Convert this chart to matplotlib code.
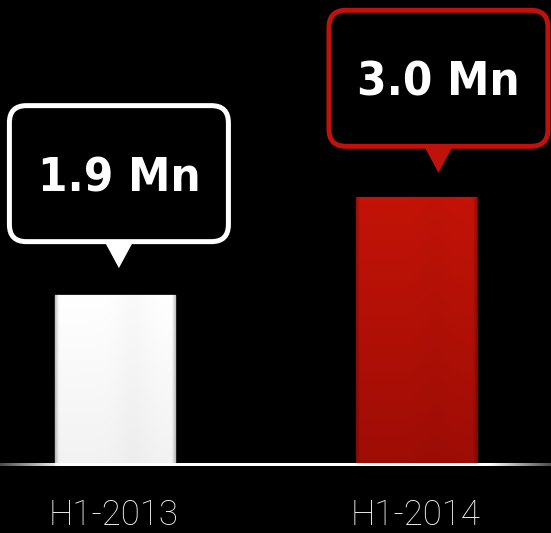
import matplotlib
matplotlib.use('Agg')
import matplotlib.pyplot as plt
import matplotlib.transforms as mtransforms
from matplotlib.patches import FancyBboxPatch, Polygon
import numpy as np

# values (million units)
periods = ['H1-2013', 'H1-2014']
values = [1.9, 3.0]
value_labels = ['1.9 Mn', '3.0 Mn']

# bar styling
bar_top = ['#ffffff', '#c41307']
bar_bottom = ['#f2f2f2', '#9e0d05']
bar_edge = ['#b0b0b0', '#7a0a03']
box_edge = ['#ffffff', '#c0120c']
box_shift_px = [4, 22]        # horizontal offset of each callout from its bar
box_gap_px = [27, 24]         # gap between bar top and callout tip

W, H, DPI = 551, 533, 100
fig = plt.figure(figsize=(W / DPI, H / DPI), dpi=DPI, facecolor='black')

base_px = 68                  # baseline height above bottom edge
px_per_unit = 89.4
ax = fig.add_axes([0, base_px / H, 1, 1 - base_px / H])
ax.set_facecolor('black')
ax.set_xlim(-0.381, 1.446)
ax.set_ylim(0, (H - base_px) / px_per_unit)
ax.axis('off')

xs = np.arange(len(values))
bw = 0.40
bars = ax.bar(xs, values, width=bw, color=bar_top, edgecolor=bar_edge,
              linewidth=1.0, zorder=2)

# shaded fill for each bar, clipped to the bar rectangle
for i, b in enumerate(bars):
    top = np.array(matplotlib.colors.to_rgb(bar_top[i]))
    bot = np.array(matplotlib.colors.to_rgb(bar_bottom[i]))
    ny, nx = 100, 120
    t = np.linspace(0, 1, ny)[:, None, None]
    col = top * (1 - t) + bot * t
    u = np.linspace(-1, 1, nx)
    shade = 1 - 0.22 * np.clip((np.abs(u) - 0.94) / 0.06, 0, 1)
    shade = shade - 0.02 * np.exp(-((u - 0.3) / 0.3) ** 2)
    img = np.clip(col * shade[None, :, None], 0, 1)
    im = ax.imshow(img, extent=[xs[i] - bw / 2, xs[i] + bw / 2, 0, values[i]],
                   aspect='auto', zorder=2.5, interpolation='bilinear')
    im.set_clip_path(b)

# baseline: thin white strip fading out towards both edges
x0, x1 = ax.get_xlim()
n = 400
xx = np.linspace(x0, x1, n)
ramp = np.clip(np.minimum(xx - x0, x1 - xx) / 0.2, 0, 1)
strip = np.ones((1, n, 4))
strip[0, :, 3] = 0.3 + 0.7 * ramp
hh = 1.5 / px_per_unit
ax.imshow(strip, extent=[x0, x1, -hh, hh], aspect='auto', zorder=3,
          interpolation='bilinear', clip_on=False)
ax.set_xlim(x0, x1)
ax.set_ylim(0, (H - base_px) / px_per_unit)

# category labels
for i, p in enumerate(periods):
    ax.annotate(p, (xs[i], 0), xytext=(-1, -50), textcoords='offset pixels',
                ha='center', va='center', fontsize=25, color='#f2f2f2',
                family='Roboto', fontweight='light', annotation_clip=False)

# callouts: rounded box with a pointer, laid out in pixels above each bar
bw_px, bh_px, tri_h, tri_w, lw_px = 224, 141, 24, 28, 5
for i, v in enumerate(values):
    trans = fig.dpi_scale_trans + mtransforms.ScaledTranslation(xs[i], v, ax.transData)
    cx = box_shift_px[i] / DPI
    tip = box_gap_px[i] / DPI
    by = tip + tri_h / DPI
    tri = Polygon([(cx - tri_w / 2 / DPI, by + 0.02), (cx + tri_w / 2 / DPI, by + 0.02),
                   (cx, tip)], closed=True, facecolor=box_edge[i],
                  edgecolor='none', transform=trans, zorder=4)
    ax.add_patch(tri)
    inset = lw_px / 2 / DPI
    box = FancyBboxPatch((cx - bw_px / 2 / DPI + inset, by + inset),
                         bw_px / DPI - 2 * inset, bh_px / DPI - 2 * inset,
                         boxstyle='round,pad=0,rounding_size=0.17',
                         facecolor='black', edgecolor=box_edge[i],
                         linewidth=lw_px * 72 / DPI, transform=trans, zorder=5)
    ax.add_patch(box)
    ax.text(cx, by + bh_px / 2 / DPI, value_labels[i], transform=trans,
            ha='center', va='center_baseline', color='white', fontsize=34,
            fontweight='bold', family='DejaVu Sans', fontstretch='condensed',
            zorder=6)

fig.savefig('out.png', dpi=DPI, facecolor='black')
